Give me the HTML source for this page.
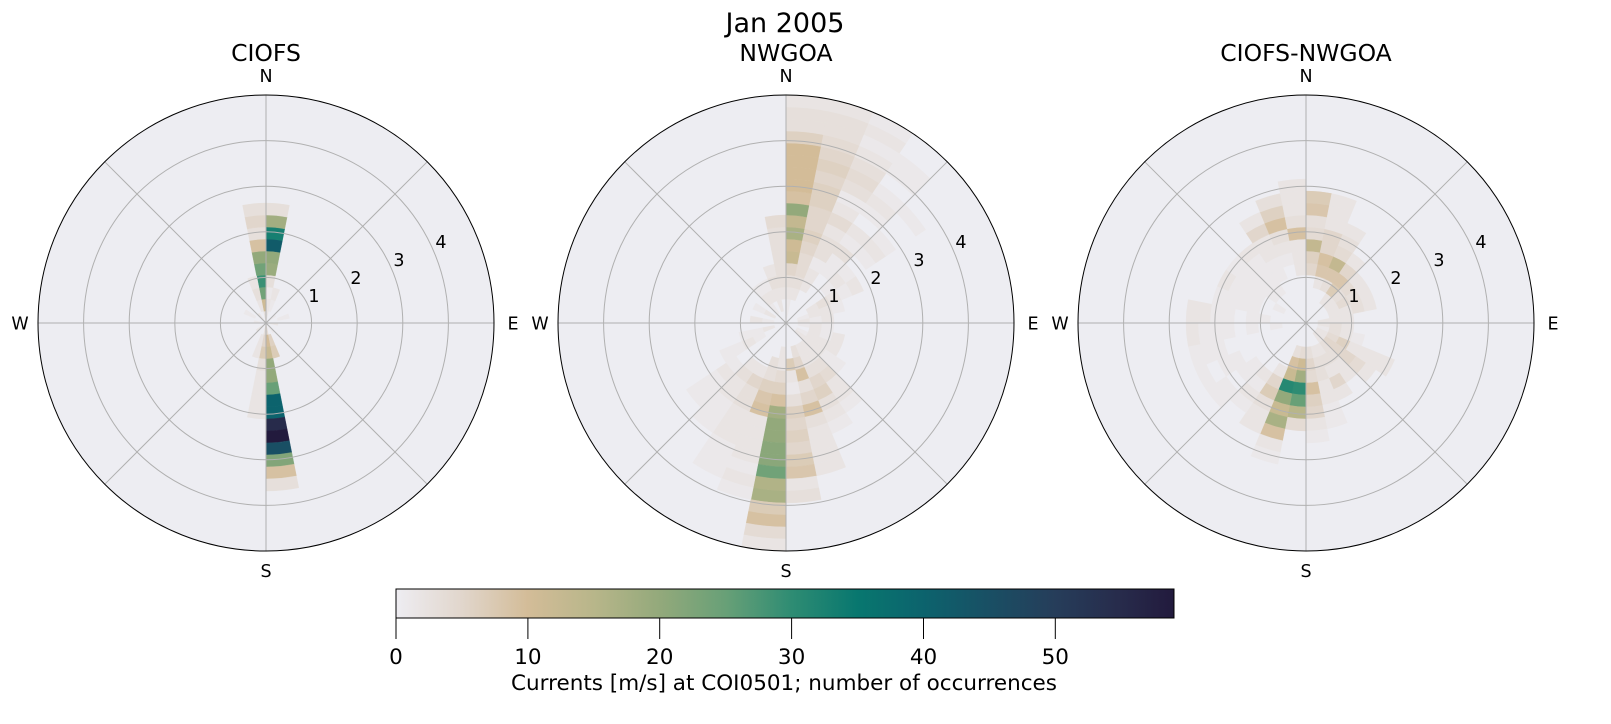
<!DOCTYPE html>
<html><head><meta charset="utf-8">
<style>
html,body{margin:0;padding:0;background:#fff;}
body{width:1611px;height:724px;overflow:hidden;position:relative;}
svg{position:absolute;left:0;top:0;}
text{font-family:"DejaVu Sans","Liberation Sans",sans-serif;fill:#000;}
</style></head><body>
<svg id="s" width="1611" height="724" viewBox="0 0 1611 724" xmlns="http://www.w3.org/2000/svg">
<defs>
<linearGradient id="cb" x1="0" x2="1" y1="0" y2="0">
<stop offset="0" stop-color="#eeedf2"/>
<stop offset="0.0847" stop-color="#e1d6cc"/>
<stop offset="0.1695" stop-color="#d3bc98"/>
<stop offset="0.2542" stop-color="#b8b68a"/>
<stop offset="0.3390" stop-color="#93a97b"/>
<stop offset="0.4237" stop-color="#68a077"/>
<stop offset="0.5085" stop-color="#2e8c73"/>
<stop offset="0.5932" stop-color="#08776f"/>
<stop offset="0.6780" stop-color="#0c636d"/>
<stop offset="0.7627" stop-color="#194f64"/>
<stop offset="0.8475" stop-color="#263d5a"/>
<stop offset="0.9322" stop-color="#272b4b"/>
<stop offset="1" stop-color="#221a3d"/>
</linearGradient>
<g id="grid" fill="none" stroke="#b0b0b0" stroke-width="1">
<circle cx="0" cy="0" r="45.6"/><circle cx="0" cy="0" r="91.2"/><circle cx="0" cy="0" r="136.8"/><circle cx="0" cy="0" r="182.4"/>
<line x1="0" y1="-228" x2="0" y2="228"/><line x1="-228" y1="0" x2="228" y2="0"/>
<line x1="-161.2" y1="-161.2" x2="161.2" y2="161.2"/><line x1="-161.2" y1="161.2" x2="161.2" y2="-161.2"/>
</g>
</defs>

<text x="785" y="32" font-size="27" text-anchor="middle">Jan 2005</text>

<circle cx="266" cy="323" r="228" fill="#ededf2"/>
<circle cx="786" cy="323" r="228" fill="#ededf2"/>
<circle cx="1306" cy="323" r="228" fill="#ededf2"/>

<g id="c1"></g><g id="c2"></g><g id="c3"></g>

<use href="#grid" x="266" y="323"/>
<use href="#grid" x="786" y="323"/>
<use href="#grid" x="1306" y="323"/>

<circle cx="266" cy="323" r="228" fill="none" stroke="#000" stroke-width="1"/>
<circle cx="786" cy="323" r="228" fill="none" stroke="#000" stroke-width="1"/>
<circle cx="1306" cy="323" r="228" fill="none" stroke="#000" stroke-width="1"/>

<text x="266" y="61" font-size="23.5" text-anchor="middle">CIOFS</text>
<text x="786" y="61" font-size="23.5" text-anchor="middle">NWGOA</text>
<text x="1306" y="61" font-size="23.5" text-anchor="middle">CIOFS-NWGOA</text>

<g font-size="17.5" text-anchor="middle">
<text x="266" y="82">N</text><text x="266" y="577">S</text><text x="20" y="329.5">W</text><text x="513" y="329.5">E</text>
<text x="786" y="82">N</text><text x="786" y="577">S</text><text x="540" y="329.5">W</text><text x="1033" y="329.5">E</text>
<text x="1306" y="82">N</text><text x="1306" y="577">S</text><text x="1060" y="329.5">W</text><text x="1553" y="329.5">E</text>

<text x="314" y="302">1</text><text x="356" y="284">2</text><text x="399" y="266">3</text><text x="441" y="248">4</text>
<text x="834" y="302">1</text><text x="876" y="284">2</text><text x="919" y="266">3</text><text x="961" y="248">4</text>
<text x="1354" y="302">1</text><text x="1396" y="284">2</text><text x="1439" y="266">3</text><text x="1481" y="248">4</text>
</g>

<rect x="396" y="589" width="778" height="29" fill="url(#cb)" stroke="#000" stroke-width="1"/>
<g stroke="#000" stroke-width="1">
<line x1="396" y1="618" x2="396" y2="639"/>
<line x1="527.9" y1="618" x2="527.9" y2="639"/>
<line x1="659.7" y1="618" x2="659.7" y2="639"/>
<line x1="791.6" y1="618" x2="791.6" y2="639"/>
<line x1="923.5" y1="618" x2="923.5" y2="639"/>
<line x1="1055.3" y1="618" x2="1055.3" y2="639"/>
</g>
<g font-size="21.5" text-anchor="middle">
<text x="396" y="664">0</text>
<text x="527.9" y="664">10</text>
<text x="659.7" y="664">20</text>
<text x="791.6" y="664">30</text>
<text x="923.5" y="664">40</text>
<text x="1055.3" y="664">50</text>
</g>
<text x="784" y="690" font-size="21.5" text-anchor="middle">Currents [m/s] at COI0501; number of occurrences</text>
</svg>
<script>
(function(){
var cmap=[[0,[238,237,242]],[5,[225,214,204]],[10,[211,188,152]],[15,[184,182,138]],[20,[147,169,123]],[25,[104,160,119]],[30,[46,140,115]],[35,[8,119,111]],[40,[12,99,109]],[45,[25,79,100]],[50,[38,61,90]],[55,[39,43,75]],[59,[34,26,61]]];
function color(v){
  if(v>59)v=59;
  for(var i=0;i<cmap.length-1;i++){
    var a=cmap[i],b=cmap[i+1];
    if(v>=a[0]&&v<=b[0]){
      var t=(v-a[0])/(b[0]-a[0]);
      var c=[0,1,2].map(function(k){return Math.round(a[1][k]+(b[1][k]-a[1][k])*t);});
      return 'rgb('+c.join(',')+')';
    }
  }
  return 'rgb(34,26,61)';
}
var BR=228/19,DT=11.25*Math.PI/180;
function f(n){return n.toFixed(2);}
function cellPath(cx,cy,c,b){
  var t1=c*DT,t2=(c+1)*DT,r1=b*BR,r2=(b+1)*BR;
  var s1=Math.sin(t1),c1=Math.cos(t1),s2=Math.sin(t2),c2=Math.cos(t2);
  var p='M'+f(cx+r2*s1)+','+f(cy-r2*c1)+' A'+f(r2)+','+f(r2)+' 0 0 1 '+f(cx+r2*s2)+','+f(cy-r2*c2)+' L'+f(cx+r1*s2)+','+f(cy-r1*c2);
  if(r1>0)p+=' A'+f(r1)+','+f(r1)+' 0 0 0 '+f(cx+r1*s1)+','+f(cy-r1*c1);
  return p+'Z';
}
var NS='http://www.w3.org/2000/svg';
function draw(id,cx,cy,data){
  var g=document.getElementById(id);
  data.forEach(function(d){
    var c=d[0],s=d[1],vals=d[2];
    for(var i=0;i<vals.length;i++){
      var v=vals[i]; if(!v)continue;
      if(s+i>18)continue;
      var p=document.createElementNS(NS,'path');
      var col=color(v);
      p.setAttribute('d',cellPath(cx,cy,c,s+i));
      p.setAttribute('fill',col);
      p.setAttribute('stroke',col);
      p.setAttribute('stroke-width','0.4');
      g.appendChild(p);
    }
  });
}
var d1=[
[0,2,[1,3,19,20,42,33,18,3]],
[31,0,[3,11,24,29,24,20,9,3,5,3]],
[30,1,[2,3,2]],
[15,0,[4,10,12,20,20,25,40,40,55,59,45,22,9,3]],
[16,0,[3,5,7,3,2,2,2,2]],
[14,1,[6,7]],
[17,1,[2,2]],
[1,1,[1,2]],
[4,0,[1]],[8,0,[2]],[12,0,[1]],[20,0,[2]],[24,0,[1]],[28,0,[2]],[26,1,[1]],[6,1,[1]],
[0,0,[2,2]]
];
var d2=[
[0,0,[1,1,2,3,5,12,11,17,13,20,9,10,10,10,10,6,3,3,2]],
[1,2,[2,3,4,4,5,6,5,5,6,6,5,6,5,4,3,3,2]],
[2,3,[2,2,1,3,3,2,4,2,1,3,4,3,2,1,2,1]],
[3,5,[1,1,3,1,2,0,1,2,1,0,1,1,0]],
[4,4,[1,2,1,0,1,2,1,0,0,1,0]],
[5,2,[2,3,2,1,2]],
[6,1,[1,2,2,1]],
[7,1,[2,1,2]],
[8,1,[1,2,1]],
[9,2,[2,1,2]],
[10,1,[1,2,2,2]],
[11,1,[2,2,2,1,1]],
[12,2,[2,2,3,4,2,2,1]],
[13,2,[2,2,3,5,6,3,2,1]],
[14,2,[3,5,9,3,5,9,3,2,2,2,2]],
[15,3,[7,2,1,3,6,5,6,5,7,8,2,3]],
[16,2,[2,2,4,6,9,18,20,20,21,21,24,16,17,7,9,4,2]],
[17,3,[3,3,6,8,9,2,2,2,2,1,2,1]],
[18,4,[2,5,3,3,2,2,2,1,1,1]],
[19,4,[2,3,2,2,1,1,1]],
[20,5,[1,2,1,1,1]],
[21,2,[1,2,1,1]],
[22,1,[2,1,1]],
[24,1,[1,2]],
[26,1,[2,1]],
[28,1,[1,2,1]],
[29,2,[2,1]],
[30,1,[2,2,3,2]],
[31,2,[2,3,3,3,3,3,4]]
];
var d3=[
[0,4,[5,6,13,4,3,8,7]],
[1,3,[2,8,9,5,5,2,2,2]],
[2,3,[3,8,13,4,3,2]],
[3,2,[2,7,8,5,2]],
[4,2,[2,3,4,2]],
[5,2,[2,4,3,2]],
[6,2,[2,2,3,2]],
[7,1,[2,2,2]],
[8,1,[2,3,2]],
[9,1,[1,3,2,1]],
[10,1,[2,4,6,2,2,2,2]],
[11,1,[2,5,5,5,4,2]],
[12,1,[2,3,3,2,2]],
[13,2,[2,3,2,5,2]],
[14,2,[2,3,3,2,2,1,1]],
[15,2,[3,5,4,9,6,5,2,1]],
[16,2,[4,11,18,30,25,15,4]],
[17,2,[3,9,12,31,20,12,17,9,2,1]],
[18,4,[2,5,7,3,2,2]],
[19,5,[2,1,2,1]],
[20,5,[1,1,0,1,1]],
[21,6,[1,1,0,1]],
[22,6,[0,1,1,1]],
[23,2,[1,0,1,0,1,1,1,2]],
[24,3,[1,1,0,1,1,2,2]],
[25,4,[1,1,1,1]],
[26,2,[1,0,1,1,1,2]],
[27,3,[1,1,1,1,1]],
[28,3,[1,1,1,1,2]],
[29,4,[1,1,2,2,5,2]],
[30,5,[1,2,3,9,6,3]],
[31,4,[2,2,2,9,3,2,2,2]]
];
draw('c1',266,323,d1);
draw('c2',786,323,d2);
draw('c3',1306,323,d3);
})();
</script>
</body></html>
